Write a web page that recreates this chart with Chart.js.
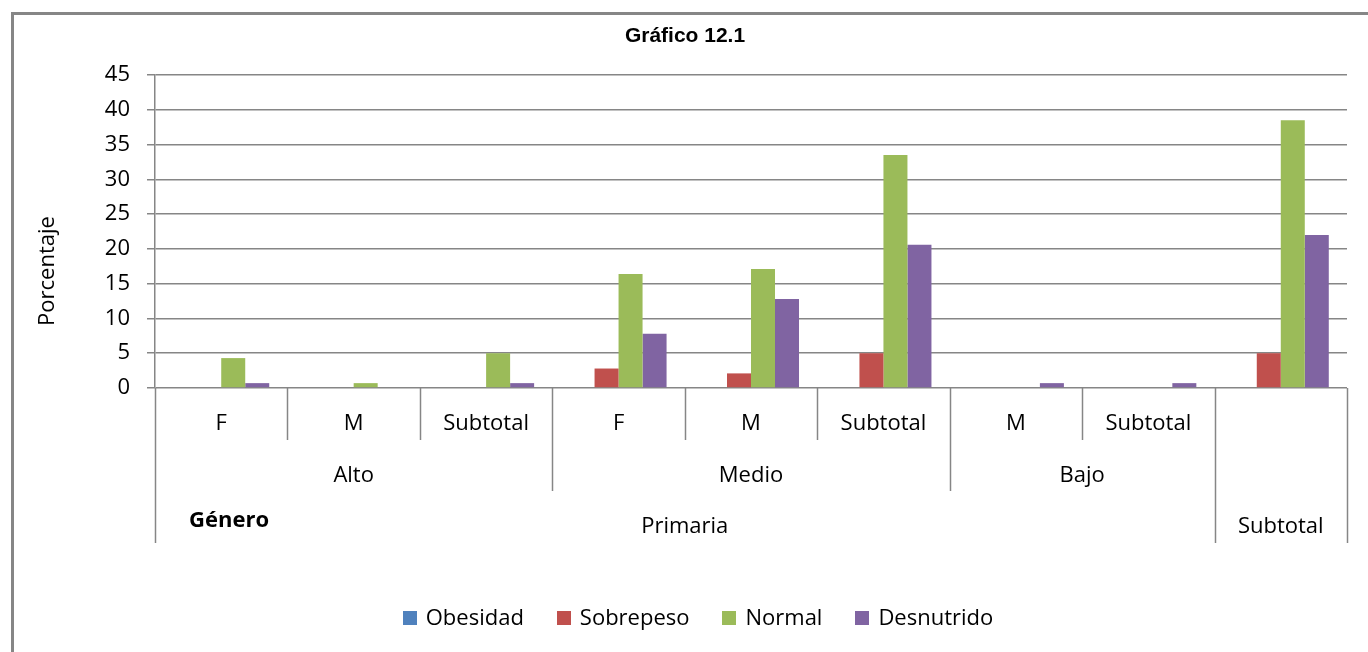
<!DOCTYPE html>
<html>
<head>
<meta charset="utf-8">
<script src="https://cdn.jsdelivr.net/npm/chart.js@4.4.1/dist/chart.umd.min.js"></script>
<style>
  html, body { margin: 0; padding: 0; background: #ffffff; }
  #wrap { width: 1368px; height: 652px; }
</style>
</head>
<body>
<div id="wrap"><canvas id="c" width="1368" height="652"></canvas></div>
<script>
// ---- data ----
const chartTitle = 'Gráfico 12.1';
const yTitle = 'Porcentaje';
const categories = ['F', 'M', 'Subtotal', 'F', 'M', 'Subtotal', 'M', 'Subtotal', ''];
const nivelLabels = ['Alto', 'Medio', 'Bajo', ''];
const nivelSpans = [3, 3, 2, 1];
const escolaridadLabels = ['Primaria', 'Subtotal'];
const escolaridadSpans = [8, 1];
const generoLabel = 'Género';
const seriesNames = ['Obesidad', 'Sobrepeso', 'Normal', 'Desnutrido'];
const obesidad   = [0, 0, 0, 0, 0, 0, 0, 0, 0];
const sobrepeso  = [0, 0, 0, 2.8, 2.1, 5.0, 0, 0, 5.0];
const normal     = [4.3, 0.7, 5.0, 16.4, 17.1, 33.5, 0, 0, 38.5];
const desnutrido = [0.7, 0, 0.7, 7.8, 12.8, 20.6, 0.7, 0.7, 22.0];
const yTicks = [0, 5, 10, 15, 20, 25, 30, 35, 40, 45];

const colors = ['#4F81BD', '#C0504D', '#9BBB59', '#8064A2'];
const lineGray = '#868686';
const FONT = '"Open Sans", "DejaVu Sans", sans-serif';

const decor = {
  id: 'decor',
  afterDraw(chart) {
    const ctx = chart.ctx;
    const x = chart.scales.x;
    const area = chart.chartArea;
    ctx.save();
    // frame
    ctx.strokeStyle = '#868686';
    ctx.lineWidth = 3;
    ctx.beginPath();
    ctx.moveTo(12.5, 700);
    ctx.lineTo(12.5, 13.5);
    ctx.lineTo(1400, 13.5);
    ctx.stroke();

    // title
    ctx.fillStyle = '#000';
    ctx.font = 'bold 21px "Liberation Sans", Arial, sans-serif';
    ctx.textAlign = 'center';
    ctx.textBaseline = 'alphabetic';
    ctx.fillText(chartTitle, 685, 42);

    // y title
    ctx.save();
    ctx.translate(54, 271);
    ctx.rotate(-Math.PI / 2);
    ctx.font = '22px ' + FONT;
    ctx.fillText(yTitle, 0, 0);
    ctx.restore();

    // multi-level category labels
    const n = categories.length;
    const w = (area.right - area.left) / n;
    const edge = (k) => area.left + k * w;
    const base = area.bottom;
    const lens = new Array(n + 1).fill(440);
    let acc = 0;
    nivelSpans.forEach(s => { lens[acc] = Math.max(lens[acc], 491); acc += s; lens[acc] = Math.max(lens[acc], 491); });
    acc = 0;
    escolaridadSpans.forEach(s => { lens[acc] = 543; acc += s; lens[acc] = 543; });
    ctx.strokeStyle = lineGray;
    ctx.lineWidth = 1.5;
    for (let k = 0; k <= n; k++) {
      const px = Math.round(edge(k)) + 0.5;
      ctx.beginPath();
      ctx.moveTo(px, base);
      ctx.lineTo(px, lens[k]);
      ctx.stroke();
    }
    ctx.fillStyle = '#000';
    ctx.font = '22px ' + FONT;
    ctx.textAlign = 'center';
    categories.forEach((c, i) => {
      ctx.fillText(c, x.getPixelForValue(i), 430);
    });
    acc = 0;
    nivelLabels.forEach((l, i) => {
      const cx = (edge(acc) + edge(acc + nivelSpans[i])) / 2;
      ctx.fillText(l, cx, 482);
      acc += nivelSpans[i];
    });
    acc = 0;
    escolaridadLabels.forEach((l, i) => {
      const cx = (edge(acc) + edge(acc + escolaridadSpans[i])) / 2;
      ctx.fillText(l, cx, 533);
      acc += escolaridadSpans[i];
    });
    ctx.font = 'bold 22px ' + FONT;
    ctx.fillText(generoLabel, 229, 527);

    // legend
    ctx.font = '22px ' + FONT;
    ctx.textAlign = 'left';
    const box = 14, gapText = 9, gapItem = 33;
    const widths = seriesNames.map(s => box + gapText + ctx.measureText(s).width);
    const total = widths.reduce((a, b) => a + b, 0) + gapItem * (seriesNames.length - 1);
    let lx = 698 - total / 2;
    seriesNames.forEach((s, i) => {
      ctx.fillStyle = colors[i];
      ctx.fillRect(Math.round(lx), 611, box, box);
      ctx.fillStyle = '#000';
      ctx.fillText(s, lx + box + gapText, 625);
      lx += widths[i] + gapItem;
    });
    ctx.restore();
  }
};

const seriesData = [obesidad, sobrepeso, normal, desnutrido];
new Chart(document.getElementById('c'), {
  type: 'bar',
  data: {
    labels: categories,
    datasets: seriesNames.map((name, i) => ({
      label: name,
      data: seriesData[i],
      backgroundColor: colors[i],
      borderWidth: 0,
      categoryPercentage: 0.725,
      barPercentage: 1.0
    }))
  },
  options: {
    responsive: false,
    animation: false,
    devicePixelRatio: 1,
    layout: { padding: { top: 75, bottom: 264, left: 0, right: 21 } },
    plugins: {
      legend: { display: false },
      title: { display: false },
      tooltip: { enabled: false }
    },
    scales: {
      x: { display: false },
      y: {
        min: 0,
        max: 45,
        afterBuildTicks(scale) { scale.ticks = yTicks.map(v => ({ value: v })); },
        afterFit(scale) { scale.width = 155; },
        ticks: {
          color: '#000',
          font: { family: FONT, size: 22 },
          padding: 17
        },
        grid: { color: lineGray, lineWidth: 1.5, tickLength: 8, drawTicks: true },
        border: { color: lineGray, width: 1.5 }
      }
    }
  },
  plugins: [decor]
});
</script>
</body>
</html>
